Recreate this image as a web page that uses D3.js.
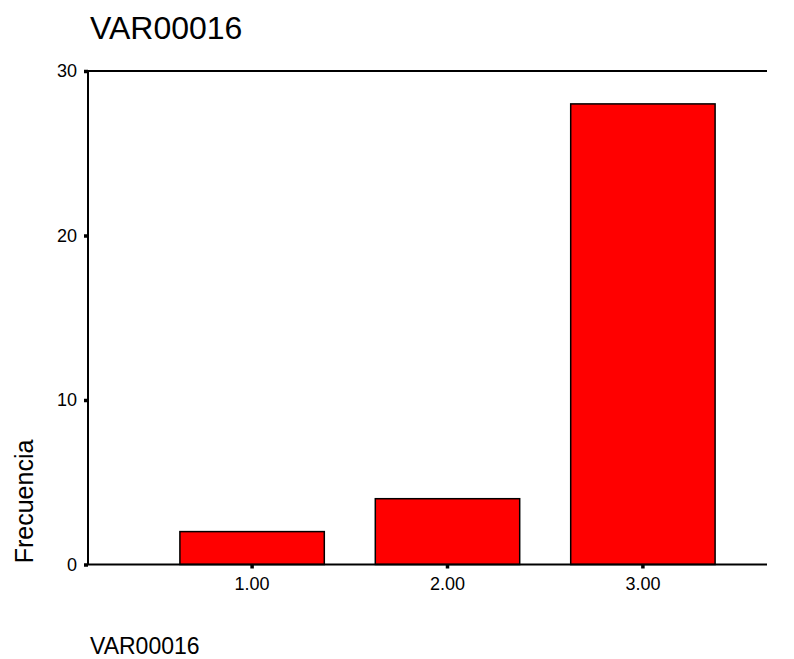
<!DOCTYPE html>
<html><head><meta charset="utf-8">
<script src="https://cdn.jsdelivr.net/npm/d3@7"></script>
<style>body{margin:0;background:#fff}svg{display:block}text{font-family:"Liberation Sans",Arial,sans-serif;fill:#000}</style>
</head><body>
<svg id="c" width="794" height="659"></svg>
<script>
const categories = ["1.00", "2.00", "3.00"];
const frequencies = [2, 4, 28];
const yTicks = [0, 10, 20, 30];
const chartTitle = "VAR00016";
const yTitle = "Frecuencia";
const footer = "VAR00016";

const svg = d3.select("#c");
const L = 88, R = 767, T = 71, B = 564.5;

const x = d3.scaleBand().domain(categories).range([154.5, 740.5]).paddingInner(0.261).paddingOuter(0.13);
const y = d3.scaleLinear().domain([0, 30]).range([B, T]);

// bars
svg.selectAll("rect.bar").data(frequencies).enter().append("rect")
  .attr("class", "bar")
  .attr("x", (d, i) => x(categories[i]))
  .attr("width", x.bandwidth())
  .attr("y", d => y(d))
  .attr("height", d => y(0) - y(d))
  .attr("fill", "#ff0000").attr("stroke", "#000").attr("stroke-width", 1.5);

// frame lines
svg.append("line").attr("x1", L).attr("x2", R).attr("y1", T).attr("y2", T).attr("stroke", "#000").attr("stroke-width", 2);
svg.append("line").attr("x1", L).attr("x2", R).attr("y1", B).attr("y2", B).attr("stroke", "#000").attr("stroke-width", 2);
svg.append("line").attr("x1", L).attr("x2", L).attr("y1", T).attr("y2", B).attr("stroke", "#000").attr("stroke-width", 2);

// y axis
const ya = svg.append("g").attr("transform", `translate(${L},0)`)
  .call(d3.axisLeft(y).tickValues(yTicks).tickSize(4).tickPadding(7).tickFormat(d3.format("d")));
ya.select(".domain").remove();
ya.selectAll(".tick line").attr("stroke", "#000").attr("stroke-width", 3.5);
ya.selectAll(".tick text").style("font-size", "18px").style("font-family", "Liberation Sans, Arial, sans-serif");

// x axis
const xa = svg.append("g").attr("transform", `translate(0,${B})`)
  .call(d3.axisBottom(x).tickSize(4).tickPadding(8.5));
xa.select(".domain").remove();
xa.selectAll(".tick line").attr("stroke", "#000").attr("stroke-width", 3.5);
xa.selectAll(".tick text").style("font-size", "18px").style("font-family", "Liberation Sans, Arial, sans-serif");

// titles
svg.append("text").attr("x", 90).attr("y", 39).style("font-size", "32px").text(chartTitle);
svg.append("text").attr("transform", "translate(33,501.5) rotate(-90)").attr("text-anchor", "middle").style("font-size", "25px").text(yTitle);
svg.append("text").attr("x", 90).attr("y", 654).style("font-size", "23px").text(footer);
</script>
</body></html>
